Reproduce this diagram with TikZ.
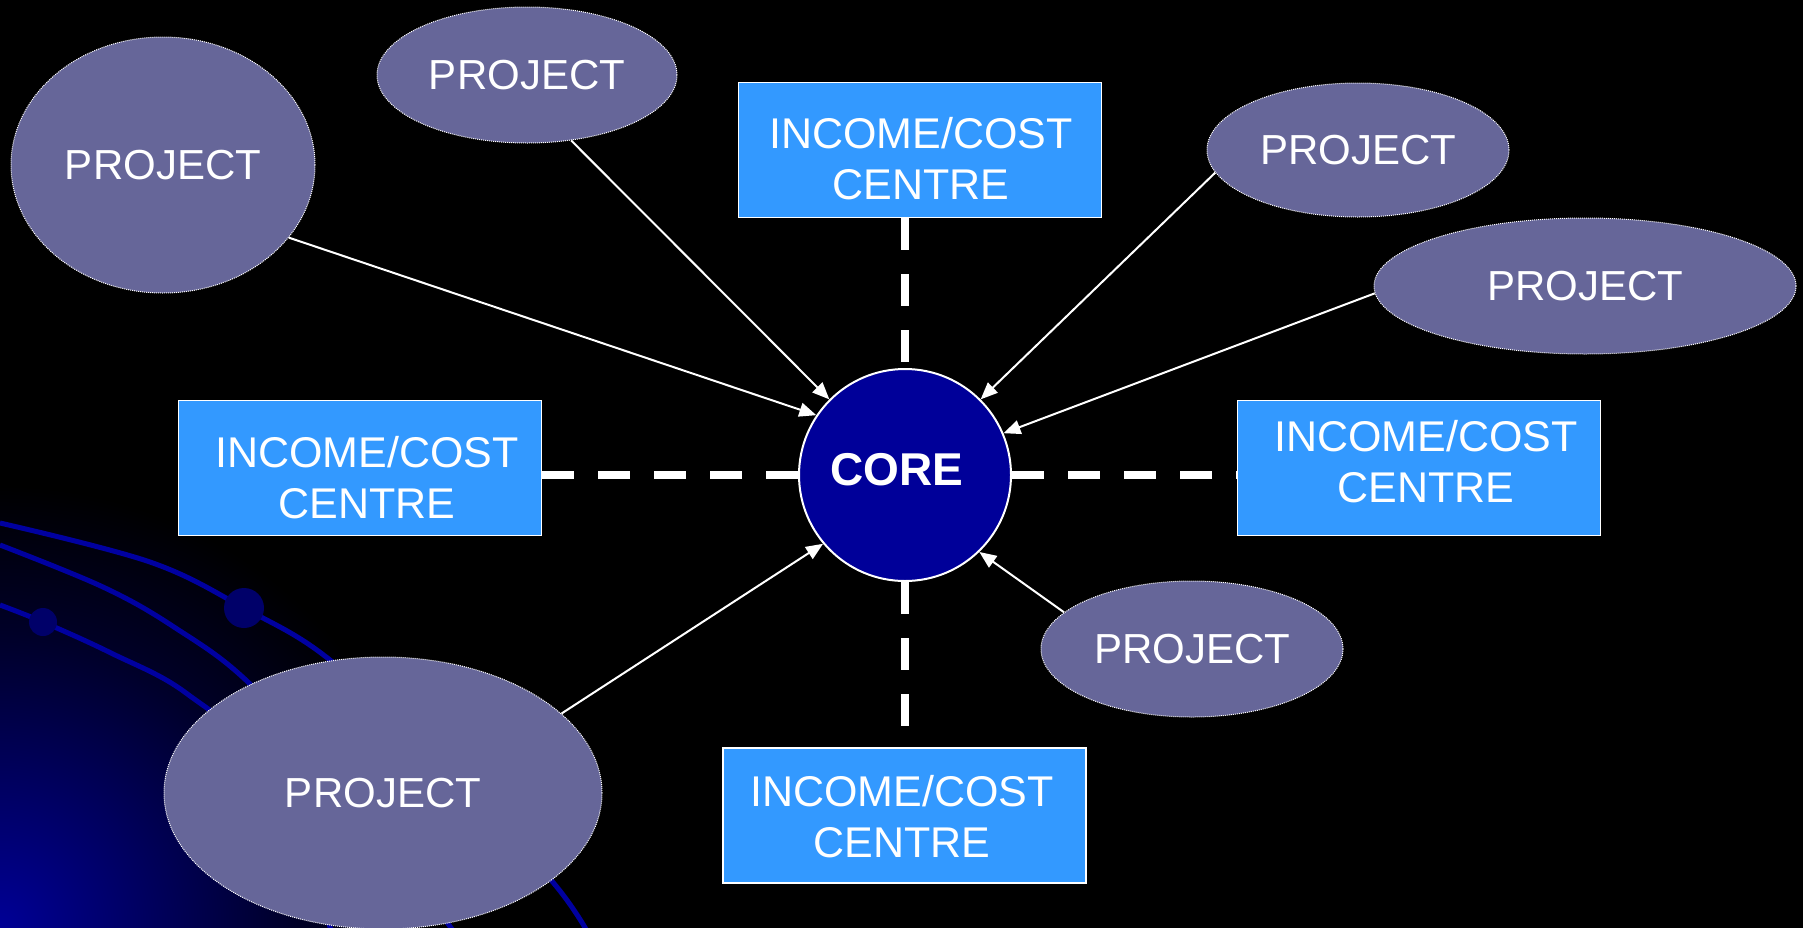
\documentclass[tikz,border=0pt]{standalone}
\usepackage{fontspec}
\setmainfont{Liberation Sans}
\usetikzlibrary{shapes.geometric,arrows.meta}
\definecolor{boxblue}{RGB}{51,153,255}
\definecolor{projfill}{RGB}{102,102,153}
\definecolor{coreblue}{RGB}{0,0,153}
\definecolor{decoblue}{RGB}{0,0,160}
\definecolor{dotblue}{RGB}{0,0,105}
\definecolor{glowA}{RGB}{0,0,150}
\definecolor{glowB}{RGB}{0,0,95}
\definecolor{glowC}{RGB}{0,0,40}
\pgfdeclareradialshading{cornerglow}{\pgfpoint{0bp}{0bp}}{color(0bp)=(glowA); color(8bp)=(glowB); color(16bp)=(glowC); color(24bp)=(black); color(50bp)=(black)}
\begin{document}
\begin{tikzpicture}[x=1pt,y=-1pt,
  project/.style={ellipse, fill=projfill, draw=white, line width=1pt, dash pattern=on 1pt off 1pt, inner sep=0pt, text=white, font=\fontsize{42}{50}\selectfont},
  centrebox/.style={rectangle, fill=boxblue, draw=white, line width=1.5pt, minimum width=363pt, minimum height=135pt, inner sep=0pt},
  centretext/.style={text=white, align=center, inner sep=0pt, font=\fontsize{43}{51}\selectfont},
  link/.style={white, line width=8pt, dash pattern=on 32pt off 24pt},
  feed/.style={white, line width=2pt, -{Triangle[length=17pt,width=14pt]}},
  deco/.style={decoblue, line width=5pt}
]
\useasboundingbox (0,0) rectangle (1803,927);
\fill[black] (-6,-6) rectangle (1809,933);
\begin{scope}
  \clip (0,0) rectangle (1803,927);
  \shade[shading=cornerglow] (0,927) circle (460pt);
  \draw[deco] plot[smooth, tension=0.6] coordinates {(0,523) (150,562) (244,608) (330,660) (440,765) (551,880) (592,940)};
  \draw[deco] plot[smooth, tension=0.6] coordinates {(0,545) (103,587) (174,627) (249,683) (350,795) (460,940)};
  \draw[deco] plot[smooth, tension=0.6] coordinates {(0,605) (43,622) (111,653) (186,693) (260,765) (335,940)};
  \fill[dotblue] (244,608) circle (20pt);
  \fill[dotblue] (43,622) circle (14pt);
\end{scope}

% core
\node[circle, fill=coreblue, draw=white, line width=2pt, minimum size=212pt, inner sep=0pt] (core) at (905,475) {};
\node[text=white, inner sep=0pt, font=\bfseries\fontsize{46}{55}\selectfont] (coretext) at (897,470) {CORE};

% income/cost centres
\node[centrebox] (topbox) at (920,150) {};
\node[centretext] (toptext) at (921,159) {INCOME/COST\\CENTRE};
\node[centrebox] (leftbox) at (360,468) {};
\node[centretext] (lefttext) at (367,477.5) {INCOME/COST\\CENTRE};
\node[centrebox] (rightbox) at (1419,468) {};
\node[centretext] (righttext) at (1426,462) {INCOME/COST\\CENTRE};
\node[centrebox] (botbox) at (904.5,815.5) {};
\node[centretext] (bottext) at (902,816.5) {INCOME/COST\\CENTRE};

% projects
\node[project, minimum width=304pt, minimum height=256pt] (tl) at (163,165) {PROJECT};
\node[project, minimum width=300pt, minimum height=136pt] (tm) at (527,75) {PROJECT};
\node[project, minimum width=302pt, minimum height=134pt] (tr1) at (1358,150) {PROJECT};
\node[project, minimum width=422pt, minimum height=136pt] (tr2) at (1585,286) {PROJECT};
\node[project, minimum width=302pt, minimum height=136pt] (br) at (1192,649) {PROJECT};
\node[project, minimum width=438pt, minimum height=272pt] (bl) at (383,793) {PROJECT};

% dashed links
\draw[link] (core.north |- topbox.south) -- (core.north);
\draw[link] (leftbox.east |- core.west) -- (core.west);
\draw[link] (core.east) -- (rightbox.west |- core.east);
\draw[link] (core.south) -- (core.south |- botbox.north);

% arrows
\draw[feed] (tl.-30) -- (core.146);
\draw[feed] (tm.-56) -- (core.135);
\draw[feed] (tr1.189) -- (core.45);
\draw[feed] (tr2.182) -- (core.23);
\draw[feed] (br.164) -- (core.-46);
\draw[feed] (bl.24) -- (core.-140);
\end{tikzpicture}
\end{document}
